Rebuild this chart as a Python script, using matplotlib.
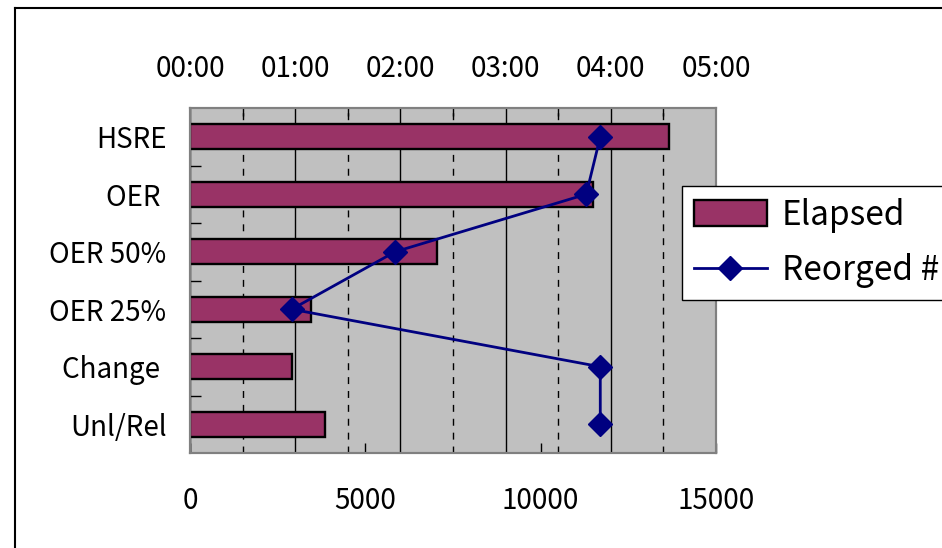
import matplotlib.pyplot as plt
from matplotlib.ticker import MultipleLocator, FuncFormatter
from matplotlib.lines import Line2D

plt.rcParams['font.family'] = ['Noto Sans CJK JP', 'DejaVu Sans']

# data
categories = ["HSRE", "OER ", "OER 50%", "OER 25%", "Change ", "Unl/Rel"]
elapsed_hhmm = ["4:33", "3:50", "2:21", "1:09", "0:58", "1:17"]
reorged = [11700, 11300, 5850, 2900, 11700, 11700]

elapsed_h = [int(t.split(":")[0]) + int(t.split(":")[1]) / 60 for t in elapsed_hhmm]
ypos = list(range(len(categories)))

fig = plt.figure(figsize=(9.42, 5.48), dpi=100)
W, H = 942, 548
ax = fig.add_axes([190 / W, 1 - 453 / H, (716 - 190) / W, (453 - 108) / H])
ax.set_facecolor('#C0C0C0')

bars = ax.barh(ypos, elapsed_h, height=0.44, color='#993366', edgecolor='black',
               linewidth=1.7, label='Elapsed', zorder=2)
ax.set_xlim(0, 5)
ax.set_ylim(len(categories) - 0.5, -0.5)

ax2 = ax.twiny()
line, = ax2.plot(reorged, ypos, color='#000080', linewidth=2, marker='D',
                 markersize=12, label='Reorged #', zorder=3)
ax2.set_xlim(0, 15000)
ax2.xaxis.set_ticks_position('bottom')
ax2.xaxis.set_label_position('bottom')
ax2.set_xticks([0, 5000, 10000, 15000])
ax2.tick_params(axis='x', direction='in', length=7, width=1, color='black', pad=24, labelsize=20)
for s in ax2.spines.values():
    s.set_color('#808080')
    s.set_linewidth(1.5)

# time axis on top (twiny resets it, so set it afterwards)
ax.xaxis.set_ticks_position('top')
ax.xaxis.set_label_position('top')
ax.xaxis.set_major_locator(MultipleLocator(1))
ax.xaxis.set_minor_locator(MultipleLocator(0.5))
ax.xaxis.set_major_formatter(FuncFormatter(lambda x, _: f"{int(round(x)):02d}:00"))
ax.grid(True, which='major', axis='x', color='black', linewidth=1.0, linestyle='-')
ax.grid(True, which='minor', axis='x', color='black', linewidth=1.0, linestyle=(0, (5, 5)))
ax.set_axisbelow(True)
ax.tick_params(axis='x', which='major', direction='in', length=0, pad=17, labelsize=20)
ax.tick_params(axis='x', which='minor', direction='in', length=6, width=1, color='black')

ax.set_yticks(ypos)
ax.set_yticklabels(categories)
ax.set_yticks([p + 0.5 for p in ypos[:-1]], minor=True)
ax.tick_params(axis='y', which='major', length=0, pad=17, labelsize=20)
ax.tick_params(axis='y', which='minor', direction='in', length=8, width=1, color='black')

for s in ax.spines.values():
    s.set_color('#808080')
    s.set_linewidth(1.5)

fig.legend([bars, line], ['Elapsed', 'Reorged #'], loc='upper left',
           bbox_to_anchor=(682 / W, 1 - 186 / H), fontsize=24, frameon=True,
           fancybox=False, edgecolor='black', framealpha=1, handlelength=2.2,
           handleheight=0.8, labelspacing=0.62, borderpad=0.35, handletextpad=0.45,
           borderaxespad=0)

# chart area border
fig.add_artist(Line2D([15 / W, 1], [1 - 8 / H, 1 - 8 / H], color='black', linewidth=1.5))
fig.add_artist(Line2D([15 / W, 15 / W], [0, 1 - 8 / H], color='black', linewidth=1.5))

fig.savefig('out.png', dpi=100)
